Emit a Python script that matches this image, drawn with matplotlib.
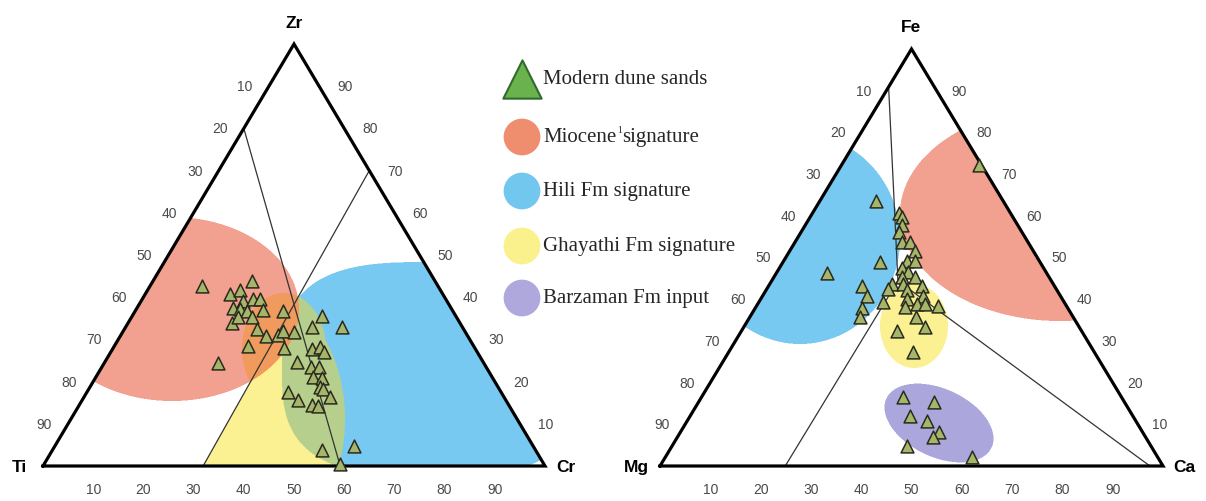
import numpy as np
import matplotlib
matplotlib.use('Agg')
import matplotlib.pyplot as plt

plt.rcParams['font.family'] = ['Liberation Sans', 'DejaVu Sans']

# ---------------- data (percent) ----------------
# Left diagram: Ti - Zr - Cr  (modern dune sands)
ti = [46.9, 36.5, 42.3, 40.0, 40.7, 38.4, 37.0, 43.5, 42.2, 41.1, 37.7, 45.5, 43.6, 40.8, 41.2,
      40.2, 37.7, 36.2, 34.1, 33.9, 45.0, 38.0, 52.9, 37.1, 26.7, 24.0, 30.0, 32.6, 30.7, 30.5,
      34.8, 33.2, 35.6, 33.9, 35.5, 35.1, 42.5, 41.4, 39.1, 38.1, 34.6, 42.5, 35.7, 40.6]
zr = [42.7, 43.8, 40.8, 41.7, 39.1, 39.6, 39.6, 37.4, 37.2, 36.7, 37.0, 33.9, 35.3, 35.3, 32.5,
      30.8, 31.0, 32.0, 31.8, 36.7, 28.4, 28.0, 24.4, 24.6, 35.5, 32.9, 32.9, 27.7, 28.2, 27.0,
      23.5, 23.5, 21.1, 20.9, 18.7, 18.2, 17.5, 15.6, 14.5, 14.2, 16.4, 3.8, 4.7, 0.5]
cr = [10.4, 19.7, 16.9, 18.3, 20.2, 22.0, 23.4, 19.1, 20.6, 22.2, 25.3, 20.6, 21.1, 23.9, 26.3,
      29.0, 31.3, 31.8, 34.1, 29.4, 26.6, 34.0, 22.7, 38.3, 37.8, 43.1, 37.1, 39.7, 41.1, 42.5,
      41.7, 43.3, 43.3, 45.2, 45.8, 46.7, 40.0, 43.0, 46.4, 47.7, 49.0, 53.7, 59.6, 58.9]

# Right diagram: Mg - Fe - Ca
mg = [0.5, 25.4, 22.1, 22.1, 23.0, 24.5, 25.1, 23.5, 23.5, 26.3, 24.7, 31.9, 28.1, 27.5, 26.7,
      29.3, 43.6, 38.2, 32.1, 29.9, 26.3, 38.4, 33.5, 29.8, 30.9, 27.3, 36.1, 40.9, 32.3, 29.5,
      27.9, 25.5, 42.4, 31.3, 30.7, 36.7, 36.1, 43.5, 37.9, 44.3, 41.5, 40.4, 42.2, 48.5, 36.9]
fe = [72.2, 63.5, 60.7, 59.7, 57.8, 56.1, 53.7, 53.7, 51.6, 49.2, 49.2, 48.9, 47.5, 46.5, 45.3,
      45.3, 46.3, 43.2, 43.6, 43.6, 43.2, 40.8, 42.4, 42.2, 40.0, 40.8, 39.3, 37.9, 38.1, 38.8,
      38.8, 38.4, 35.7, 35.7, 33.3, 32.4, 27.3, 16.5, 15.3, 12.0, 10.8, 8.2, 7.0, 4.8, 2.2]
ca = [27.3, 11.1, 17.2, 18.2, 19.2, 19.4, 21.2, 22.8, 24.9, 24.5, 26.1, 19.2, 24.4, 26.0, 28.0,
      25.4, 10.1, 18.6, 24.3, 26.5, 30.5, 20.8, 24.1, 28.0, 29.1, 31.9, 24.6, 21.2, 29.6, 31.7,
      33.3, 36.1, 21.9, 33.0, 36.0, 30.9, 36.6, 40.0, 46.8, 43.7, 47.7, 51.4, 50.8, 46.7, 60.9]

tick_values = [10, 20, 30, 40, 50, 60, 70, 80, 90]
left_apices = ['Ti', 'Zr', 'Cr']
right_apices = ['Mg', 'Fe', 'Ca']

# reference lines, as (left, top, right) compositions of the end points
left_lines = [((20, 80, 0), (40.8, 0, 59.2)),
              ((0, 70, 30), (68.1, 0, 31.9))]
right_lines = [((9.1, 90.9, 0), (30.5, 44.4, 25.1)),
               ((75.1, 0, 24.9), (30.5, 44.4, 25.1)),
               ((30.5, 44.4, 25.1), (2.6, 0, 97.4))]

legend_labels = ['Modern dune sands', ('Miocene', '1', 'signature'), 'Hili Fm signature',
                 'Ghayathi Fm signature', 'Barzaman Fm input']

# ---------------- geometry ----------------
FW, FH = 1206, 502
TRI_L = dict(x0=43, y0=467, W=502, H=422)
TRI_R = dict(x0=660, y0=467, W=503, H=417)


def tern(l, t, r, tri):
    l, t, r = (np.asarray(v, float) for v in (l, t, r))
    s = l + t + r
    t = t / s
    r = r / s
    u = r + t / 2.0
    return tri['x0'] + u * tri['W'], tri['y0'] - t * tri['H']


def verts(tri):
    return [(tri['x0'], tri['y0']), (tri['x0'] + tri['W'] / 2.0, tri['y0'] - tri['H']),
            (tri['x0'] + tri['W'], tri['y0'])]


fig = plt.figure(figsize=(FW / 100, FH / 100), dpi=100)
ax = fig.add_axes([0, 0, 1, 1])
ax.set_xlim(0, FW)
ax.set_ylim(FH, 0)
ax.axis('off')

# ---------------- shaded fields (rasterised with overlap colours) ----------------
S = 2
xs = (np.arange(FW * S) + 0.5) / S
ys = (np.arange(FH * S) + 0.5) / S
X, Y = np.meshgrid(xs, ys)


def in_tri(tri):
    (ax_, ay), (tx, ty), (bx, by) = verts(tri)
    c1 = (tx - ax_) * (Y - ay) - (ty - ay) * (X - ax_) >= 0
    c2 = (tx - bx) * (Y - by) - (ty - by) * (X - bx) <= 0
    return c1 & c2 & (Y <= ay)


def ell(cx, cy, a, b, theta=0.0, n=2.0):
    t = np.deg2rad(theta)
    dx, dy = X - cx, Y - cy
    xr = dx * np.cos(t) + dy * np.sin(t)
    yr = -dx * np.sin(t) + dy * np.cos(t)
    return np.abs(xr / a) ** n + np.abs(yr / b) ** n <= 1


def right_of(p1, p2):
    return (p2[0] - p1[0]) * (Y - p1[1]) - (p2[1] - p1[1]) * (X - p1[0]) > 0


inL = in_tri(TRI_L)
inR = in_tri(TRI_R)
l2a = tern(*left_lines[1][1], TRI_L)
l2b = tern(*left_lines[1][0], TRI_L)

ghay_left = (ell(250, 420, 95, 130) & right_of(l2a, l2b)) | ell(284, 350, 42, 56)
masks = {
    1: ell(172, 310, 127, 92) & inL,                                  # Miocene (left)
    2: ell(432, 370, 150, 107, n=3.0) & inL,                          # Hili (left)
    4: ghay_left & inL,                                               # Ghayathi (left)
    8: ell(800, 240, 100, 105) & inR,                                 # Hili (right)
    16: ell(1060, 215, 160, 107) & inR,                               # Miocene (right)
    32: ell(914, 327, 34, 42) & inR,                                  # Ghayathi (right)
    64: ell(939, 424, 58, 34, theta=25) & inR,                        # Barzaman (right)
}
code = np.zeros(X.shape, dtype=np.int32)
for k, m in masks.items():
    code[m] += k


def hexrgb(h):
    h = h.lstrip('#')
    return np.array([int(h[i:i + 2], 16) for i in (0, 2, 4)], float) / 255.0


RED, BLUE, YEL, PUR = '#F2A08F', '#78C9F1', '#FBF193', '#ABA6DB'
base = {1: RED, 2: BLUE, 4: YEL, 8: BLUE, 16: RED, 32: YEL, 64: PUR}
special = {1 + 4: '#F09A5E', 2 + 4: '#B6CF8C', 1 + 2: RED, 1 + 2 + 4: '#F09A5E',
           16 + 32: '#F5B078', 8 + 32: '#A8D6B0', 32 + 64: '#C8C0B8'}

img = np.ones(X.shape + (3,))
for c in np.unique(code):
    if c == 0:
        continue
    if c in special:
        col = hexrgb(special[c])
    else:
        col = np.ones(3)
        for k, h in base.items():
            if c & k:
                col = col * hexrgb(h)
    img[code == c] = col
img = img.reshape(FH, S, FW, S, 3).mean(axis=(1, 3))
ax.imshow(img, extent=(0, FW, FH, 0), interpolation='nearest', zorder=0, aspect='auto')

# ---------------- reference lines ----------------
for lines, tri in ((left_lines, TRI_L), (right_lines, TRI_R)):
    for p, q in lines:
        x1, y1 = tern(*p, tri)
        x2, y2 = tern(*q, tri)
        ax.plot([x1, x2], [y1, y2], color='#333333', lw=0.9, zorder=2)

# ---------------- triangle frames, ticks, apex labels ----------------
for tri, names, dl, dr in ((TRI_L, left_apices, -24, 26), (TRI_R, right_apices, -23, 22)):
    v = verts(tri)
    px = [p[0] for p in v] + [v[0][0]]
    py = [p[1] for p in v] + [v[0][1]]
    ax.plot(px, py, color='black', lw=2.3, zorder=3, solid_joinstyle='miter', clip_on=False)
    for tv in tick_values:
        x, y = tern(tv, 100 - tv, 0, tri)
        ax.text(x + dl, y, str(tv), ha='center', va='center', fontsize=10, color='#4a4a4a')
        x, y = tern(0, tv, 100 - tv, tri)
        ax.text(x + dr, y, str(tv), ha='center', va='center', fontsize=10, color='#4a4a4a')
        x, y = tern(100 - tv, 0, tv, tri)
        ax.text(x, y + 23, str(tv), ha='center', va='center', fontsize=10, color='#4a4a4a')
    (lx, ly), (tx, ty), (rx, ry) = v
    ax.text(lx - 24, ly + 1, names[0], ha='center', va='center', fontsize=12.5, fontweight='bold')
    ax.text(tx, ty - 22, names[1], ha='center', va='center', fontsize=12.5, fontweight='bold')
    ax.text(rx + 21, ry + 1, names[2], ha='center', va='center', fontsize=12.5, fontweight='bold')

# ---------------- samples ----------------
mk = dict(marker='^', s=85, facecolor='#A5B66B', edgecolor='#2A2A1E', linewidths=1.1,
          zorder=5, clip_on=False)
x, y = tern(ti, zr, cr, TRI_L)
ax.scatter(x, y, **mk)
x, y = tern(mg, fe, ca, TRI_R)
ax.scatter(x, y, **mk)

# ---------------- legend ----------------
leg_y = [80, 138, 192, 247, 299]
leg_cols = ['#EE8E6E', '#72C7EF', '#FAF08C', '#AEA8DC']
ax.scatter([522], [leg_y[0]], marker='^', s=760, facecolor='#69B24C', edgecolor='#2F6A2F',
           linewidths=1.5, zorder=5)
ax.scatter([522] * 4, leg_y[1:], marker='o', s=700, c=leg_cols, linewidths=0, zorder=5)
renderer = fig.canvas.get_renderer()
tk = dict(va='center', fontsize=15, color='#262626', family='Liberation Serif')
for yy, lab in zip(leg_y, legend_labels):
    if isinstance(lab, tuple):
        t1 = ax.text(543, yy, lab[0], ha='left', **tk)
        w1 = t1.get_window_extent(renderer=renderer).width
        t2 = ax.text(543 + w1 + 0.5, yy - 7, lab[1], ha='left', va='center', fontsize=7,
                     color='#262626', family='Liberation Serif')
        w2 = t2.get_window_extent(renderer=renderer).width
        ax.text(543 + w1 + w2 + 1, yy, lab[2], ha='left', **tk)
    else:
        ax.text(543, yy, lab, ha='left', **tk)

fig.savefig('out.png', dpi=100)
